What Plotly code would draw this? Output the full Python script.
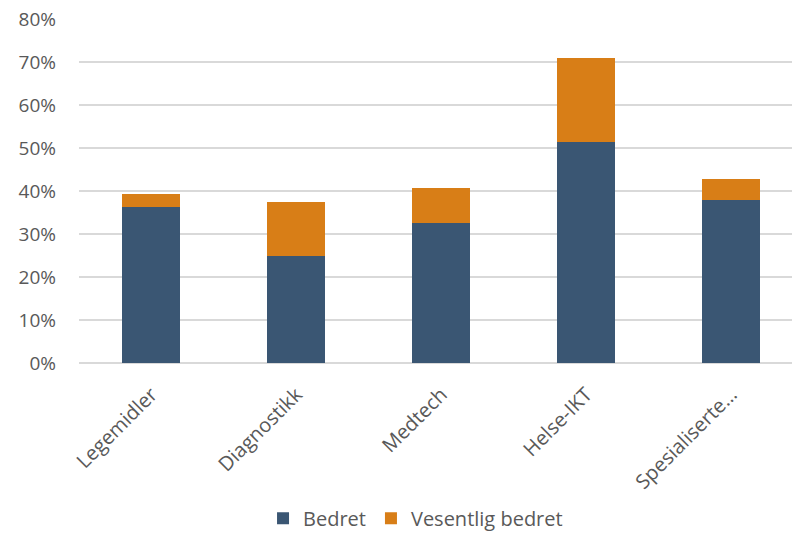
import plotly.graph_objects as go

categories = ["Legemidler", "Diagnostikk", "Medtech", "Helse-IKT", "Spesialiserte…"]
bedret = [36.3, 24.9, 32.5, 51.5, 38.0]
vesentlig_bedret = [3.0, 12.5, 8.2, 19.4, 4.7]
y_ticks = [0, 10, 20, 30, 40, 50, 60, 70, 80]
y_tick_labels = [f"{v}%" for v in y_ticks]

font_family = "'Open Sans', Lato, sans-serif"
grey = "#595959"

fig = go.Figure()
fig.add_bar(x=categories, y=bedret, name="Bedret", marker_color="#3A5673",
            marker_line=dict(color="#3A5673", width=0), width=0.4)
fig.add_bar(x=categories, y=vesentlig_bedret, name="Vesentlig bedret", marker_color="#D87E17",
            marker_line=dict(color="#D87E17", width=0), width=0.4)

fig.update_layout(
    barmode="stack",
    width=792, height=537,
    margin=dict(l=79, r=0, t=19, b=174),
    plot_bgcolor="white", paper_bgcolor="white",
    font=dict(family=font_family, size=19, color=grey),
    xaxis=dict(tickangle=-45, range=[-0.5, 4.42], showgrid=False, showline=False,
               automargin=False, ticks="", ticklabelstandoff=15,
               tickfont=dict(size=20, color=grey)),
    yaxis=dict(range=[0, 80], tickvals=y_ticks, ticktext=y_tick_labels, automargin=False,
               showgrid=True, gridcolor="#D9D9D9", gridwidth=1.5, zeroline=True,
               zerolinecolor="#D9D9D9", zerolinewidth=1.5,
               ticks="", ticklen=0, ticklabelstandoff=22, tickfont=dict(size=19, color=grey)),
    legend=dict(orientation="h", x=0.472, xanchor="center", yref="container", y=0.035,
                yanchor="middle", font=dict(size=20, color=grey), traceorder="normal"),
    showlegend=True,
)

fig.write_html("out.html", config={"displayModeBar": False},
               post_script="document.body.style.margin='0';document.body.style.overflow='hidden';")
